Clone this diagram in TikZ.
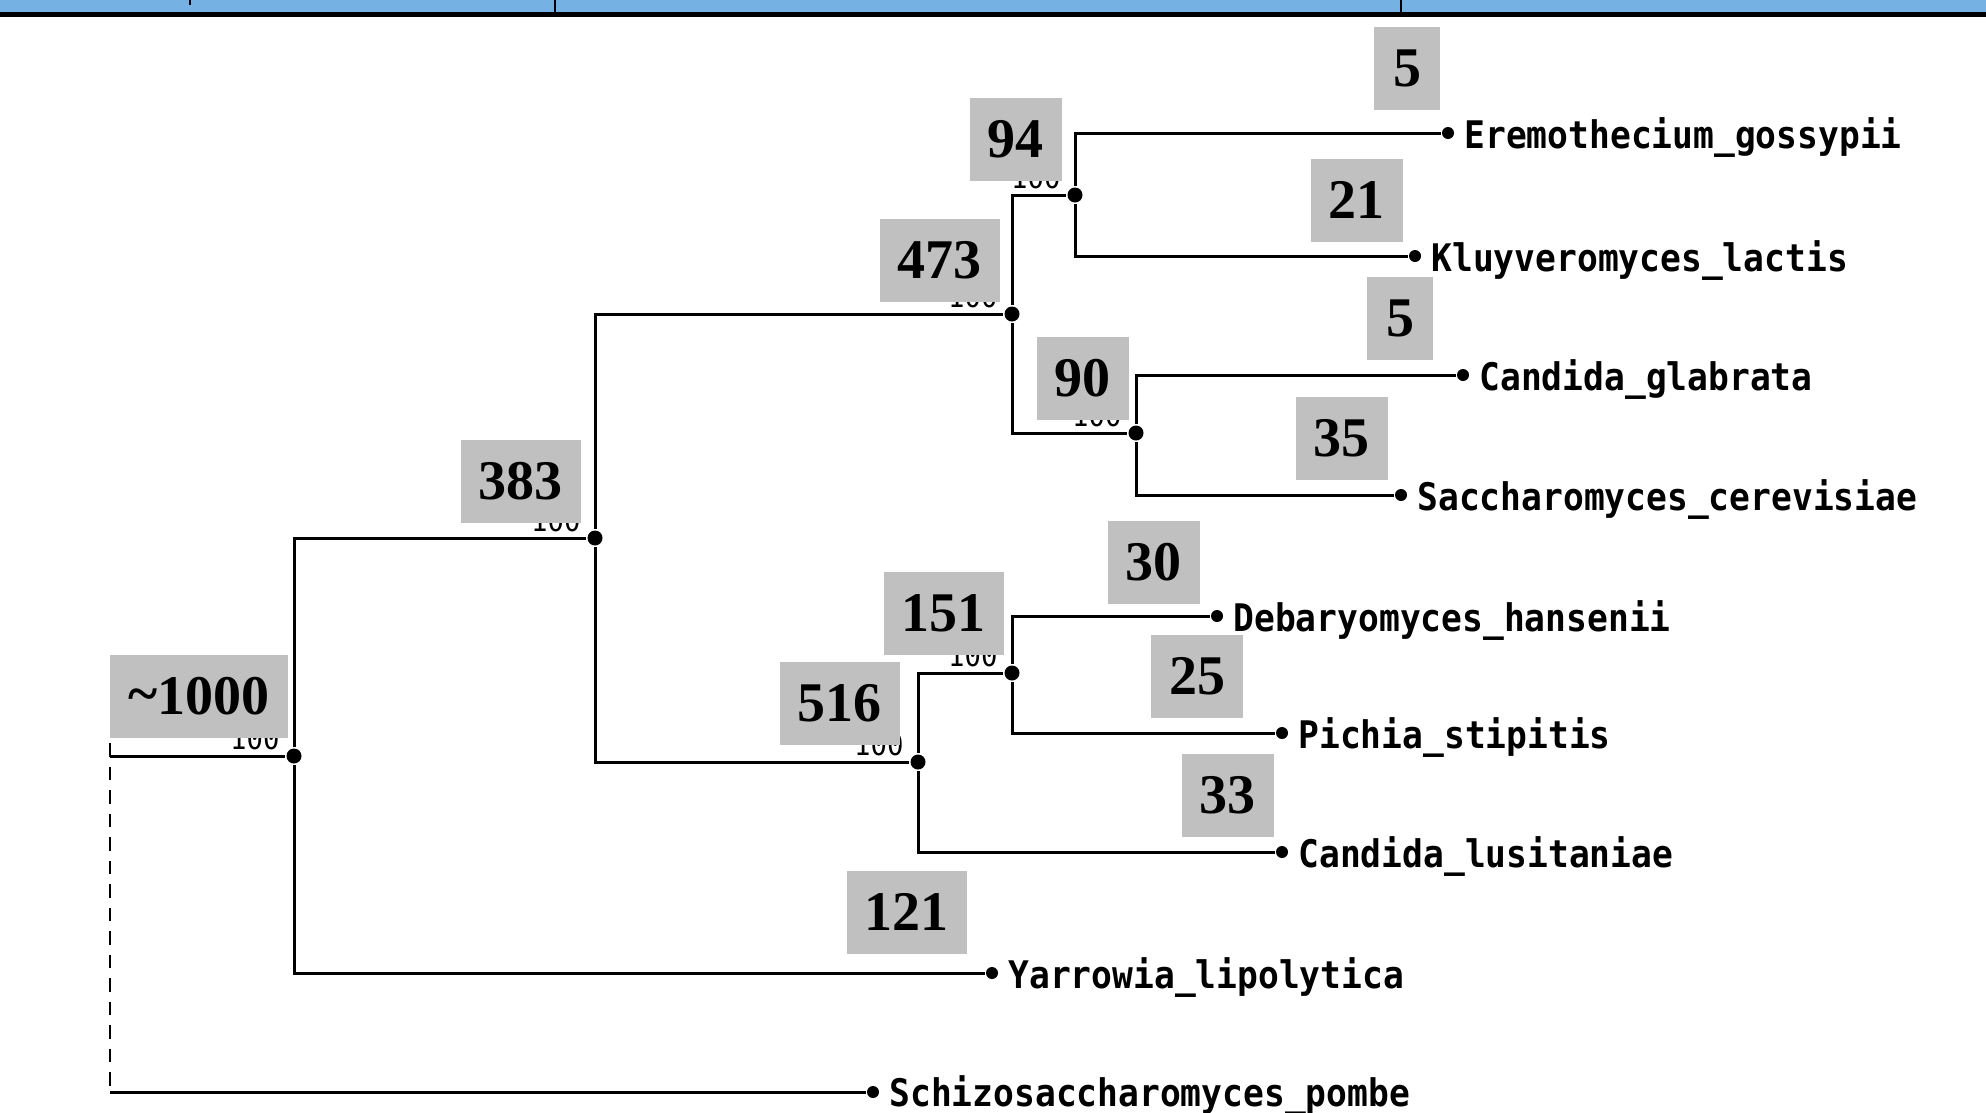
\documentclass[tikz,border=0pt]{standalone}
\usepackage{fontspec}
\newfontfamily\tipfont[FakeStretch=0.91]{DejaVu Sans Mono}
\newfontfamily\valfont{Liberation Serif}
\definecolor{barblue}{RGB}{117,177,227}
\definecolor{boxgray}{RGB}{192,192,192}

\begin{document}
\begin{tikzpicture}[x=1pt,y=-1pt,line width=3pt,
  inner node/.style={circle,fill,inner sep=0pt,minimum size=15pt},
  leaf node/.style={circle,fill,inner sep=0pt,minimum size=12pt},
  taxon/.style={anchor=base west,inner sep=0pt,font=\tipfont\bfseries\fontsize{38}{38}\selectfont},
  boot/.style={anchor=base east,inner sep=0pt,font=\tipfont\fontsize{30}{30}\selectfont},
  count/.style={fill=boxgray,minimum width=66pt,minimum height=83pt,inner xsep=18pt,
    font=\valfont\bfseries\fontsize{56}{56}\selectfont},
  branch/.style={to path={|- (\tikztotarget)}}]

  \useasboundingbox (0,0) rectangle (1986,1112);

  \fill[barblue] (0,0) rectangle (1986,12);
  \fill[black] (0,12) rectangle (1986,17);
  \draw[line width=2pt] (555,0) -- (555,17) (1401,0) -- (1401,17) (190,0) -- (190,5);

  \coordinate (root) at (110,756);
  \coordinate (rootlow) at (110,1092);
  \node[inner node] (a) at (294,756) {};
  \node[inner node] (b) at (595,538) {};
  \node[inner node] (c) at (1012,314) {};
  \node[inner node] (e) at (1075,195) {};
  \node[inner node] (f) at (1136,433) {};
  \node[inner node] (d) at (918,762) {};
  \node[inner node] (g) at (1012,673) {};

  \node[leaf node] (erem) at (1448,133) {};
  \node[leaf node] (kluy) at (1415,256) {};
  \node[leaf node] (glab) at (1463,375) {};
  \node[leaf node] (scer) at (1401,495) {};
  \node[leaf node] (dhan) at (1217,616) {};
  \node[leaf node] (psti) at (1282,733) {};
  \node[leaf node] (clus) at (1282,852) {};
  \node[leaf node] (ylip) at (992,973) {};
  \node[leaf node] (spom) at (873,1092) {};

  \draw[line width=2.5pt,dash pattern=on 13.5pt off 10pt] (110,743) -- (rootlow);
  \draw (root) -- (a);
  \draw (rootlow) -- (spom);

  \path
    (a) edge[branch] (b)
    (a) edge[branch] (ylip)
    (b) edge[branch] (c)
    (b) edge[branch] (d)
    (c) edge[branch] (e)
    (c) edge[branch] (f)
    (e) edge[branch] (erem)
    (e) edge[branch] (kluy)
    (f) edge[branch] (glab)
    (f) edge[branch] (scer)
    (d) edge[branch] (g)
    (d) edge[branch] (clus)
    (g) edge[branch] (dhan)
    (g) edge[branch] (psti);

  \node[taxon] (eremlab) at (1463,148) {Eremothecium\_gossypii};
  \node[taxon] (kluylab) at (1430,271) {Kluyveromyces\_lactis};
  \node[taxon] (glablab) at (1478,390) {Candida\_glabrata};
  \node[taxon] (scerlab) at (1416,510) {Saccharomyces\_cerevisiae};
  \node[taxon] (dhanlab) at (1232,631) {Debaryomyces\_hansenii};
  \node[taxon] (pstilab) at (1297,748) {Pichia\_stipitis};
  \node[taxon] (cluslab) at (1297,867) {Candida\_lusitaniae};
  \node[taxon] (yliplab) at (1007,988) {Yarrowia\_lipolytica};
  \node[taxon] (spomlab) at (888,1106) {Schizosaccharomyces\_pombe};

  \node[boot] (boota) at (281,749) {100};
  \node[boot] (bootb) at (582,531) {100};
  \node[boot] (bootc) at (999,307) {100};
  \node[boot] (boote) at (1062,188) {100};
  \node[boot] (bootf) at (1123,426) {100};
  \node[boot] (bootd) at (905,755) {100};
  \node[boot] (bootg) at (999,666) {100};

  \node[count] (cerem) at (1407,68) {5};
  \node[count] (ce) at (1015.5,139.5) {94};
  \node[count] (ckluy) at (1356.5,200) {21};
  \node[count] (cc) at (939.5,260) {473};
  \node[count] (cglab) at (1400,318.5) {5};
  \node[count] (cf) at (1082.5,378) {90};
  \node[count] (cscer) at (1341.5,438) {35};
  \node[count] (cb) at (520.5,481.5) {383};
  \node[count] (cdhan) at (1153.5,562.5) {30};
  \node[count] (cg) at (943.5,613) {151};
  \node[count] (cpsti) at (1197,676.5) {25};
  \node[count] (cd) at (839.5,703.5) {516};
  \node[count] (cclus) at (1227.5,795) {33};
  \node[count] (ca) at (199,696.5) {\raisebox{2pt}{\char`\~}1000};
  \node[count] (cylip) at (906.5,912) {121};
\end{tikzpicture}
\end{document}
